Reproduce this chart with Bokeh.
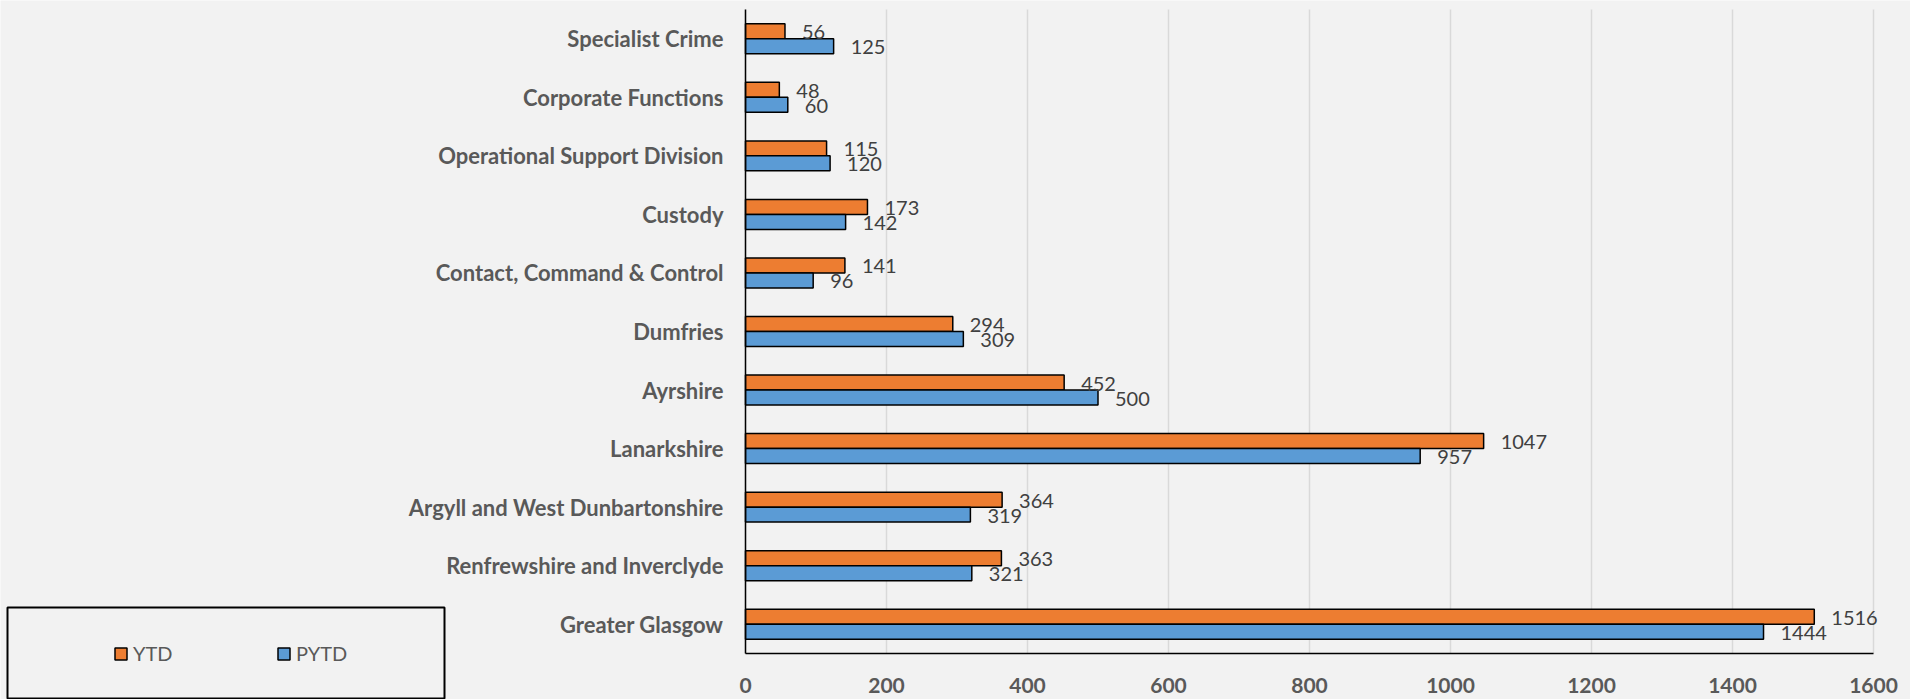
from bokeh.plotting import figure
from bokeh.models import (Range1d, ColumnDataSource, Legend, LegendItem, BoxAnnotation,
                          LinearAxis, FixedTicker, Grid)
from bokeh.transform import dodge
from bokeh.core.properties import value
from bokeh.embed import file_html
from bokeh.resources import INLINE

# categories listed bottom to top
categories = ["Greater Glasgow", "Renfrewshire and Inverclyde", "Argyll and West Dunbartonshire",
              "Lanarkshire", "Ayrshire", "Dumfries", "Contact, Command & Control", "Custody",
              "Operational Support Division", "Corporate Functions", "Specialist Crime"]
ytd = [1516, 363, 364, 1047, 452, 294, 141, 173, 115, 48, 56]
pytd = [1444, 321, 319, 957, 500, 309, 96, 142, 120, 60, 125]
series_names = ["YTD", "PYTD"]
series_colors = ["#ED7D31", "#5B9BD5"]
x_ticks = [0, 200, 400, 600, 800, 1000, 1200, 1400, 1600]

n = len(categories)
pos = [i + 0.5 for i in range(n)]          # centre of each category band
src = ColumnDataSource(dict(cat=categories, pos=pos, ytd=ytd, pytd=pytd,
                            ytd_t=[str(v) for v in ytd], pytd_t=[str(v) for v in pytd]))

BG = "#F2F2F2"
FONT = "Lato"
W, H = 1910, 699
# plot area in pixels: x 745..1873 (0..1600), y 9..653 (11 bands)
px_per_x = (1873 - 745) / (x_ticks[-1] - x_ticks[0])
px_per_band = (653 - 9) / n

p = figure(width=W, height=H, output_backend="svg", toolbar_location=None,
           x_range=Range1d(x_ticks[0] - 745 / px_per_x, x_ticks[-1] + (W - 1873) / px_per_x),
           y_range=Range1d(-(H - 653) / px_per_band, n + 9 / px_per_band),
           x_axis_type=None, y_axis_type=None, min_border=0)
p.background_fill_color = BG
p.border_fill_color = BG
p.outline_line_color = None

# vertical grid lines limited to the plot area
gl = dict(grid_line_color="#D9D9D9", grid_line_width=1.5)
if "cross_bounds" in Grid.properties():
    g = Grid(dimension=0, ticker=FixedTicker(ticks=x_ticks), cross_bounds=(0, n), **gl)
    p.add_layout(g)
else:
    p.segment(x0=x_ticks, x1=x_ticks, y0=[0] * len(x_ticks), y1=[n] * len(x_ticks),
              line_color="#D9D9D9", line_width=1.5)

bw = 0.256
r1 = p.hbar(y=dodge("pos", bw / 2), right="ytd", left=0, height=bw, source=src,
            fill_color=series_colors[0], line_color="black", line_width=1.5)
r2 = p.hbar(y=dodge("pos", -bw / 2), right="pytd", left=0, height=bw, source=src,
            fill_color=series_colors[1], line_color="black", line_width=1.5)

p.text(x="ytd", y=dodge("pos", bw / 2), text="ytd_t", source=src, x_offset=17, y_offset=1,
       text_font=value(FONT), text_font_size="20px", text_color="#404040",
       text_baseline="middle", text_align="left")
p.text(x="pytd", y=dodge("pos", -bw / 2), text="pytd_t", source=src, x_offset=17, y_offset=1,
       text_font=value(FONT), text_font_size="20px", text_color="#404040",
       text_baseline="middle", text_align="left")

xaxis = LinearAxis(ticker=FixedTicker(ticks=x_ticks), fixed_location=0, bounds=(x_ticks[0], x_ticks[-1]))
yaxis = LinearAxis(ticker=FixedTicker(ticks=pos), fixed_location=0, bounds=(0, n),
                   major_label_overrides={pp: c for pp, c in zip(pos, categories)})
for ax in (xaxis, yaxis):
    ax.axis_line_color = "black"
    ax.axis_line_width = 1.5
    ax.major_tick_line_color = None
    ax.minor_tick_line_color = None
    ax.major_label_text_font = FONT
    ax.major_label_text_font_style = "bold"
    ax.major_label_text_color = "#595959"
yaxis.major_label_text_font_size = "22px"
xaxis.major_label_text_font_size = "21px"
yaxis.major_label_standoff = 16
xaxis.major_label_standoff = 18
p.add_layout(xaxis, "below")
p.add_layout(yaxis, "left")

legend = Legend(items=[LegendItem(label=series_names[0], renderers=[r1]),
                       LegendItem(label=series_names[1], renderers=[r2])],
                orientation="horizontal", location=(113, 34),
                glyph_width=15, glyph_height=15, label_standoff=5, label_width=99, spacing=44,
                padding=0, margin=0, border_line_color=None, background_fill_alpha=0,
                label_text_font=FONT, label_text_font_size="20px", label_text_color="#595959")
p.add_layout(legend)

box = BoxAnnotation(left=7, right=444, top=607, bottom=698,
                    left_units="canvas", right_units="canvas", top_units="canvas", bottom_units="canvas",
                    fill_alpha=0, line_color="black", line_alpha=1.0, line_width=2)
p.add_layout(box)

open("out.html", "w").write(file_html(p, INLINE))
